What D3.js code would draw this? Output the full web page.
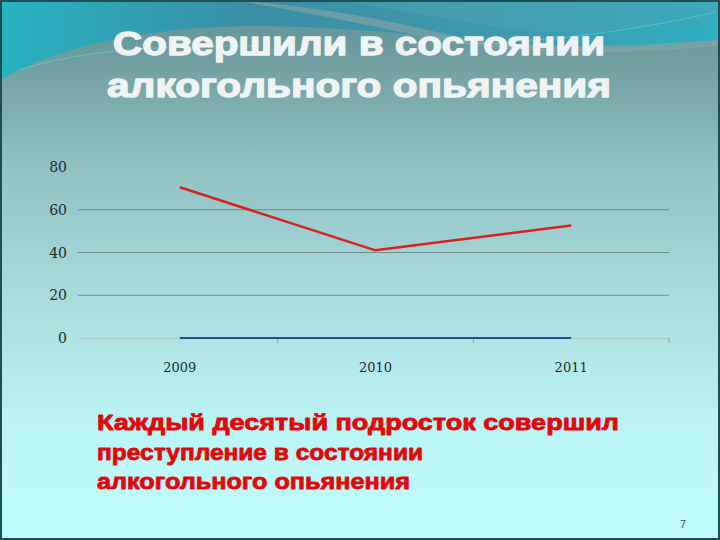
<!DOCTYPE html>
<html><head><meta charset="utf-8">
<script src="https://cdn.jsdelivr.net/npm/d3@7"></script>
<style>html,body{margin:0;padding:0;background:#fff;}svg{display:block;}</style>
</head><body>
<script>
const titleLines = ["Совершили в состоянии", "алкогольного опьянения"];
const noteLines = ["Каждый десятый подросток совершил", "преступление в состоянии", "алкогольного опьянения"];
const years = ["2009", "2010", "2011"];
const seriesRed = [70.5, 41, 52.6];
const seriesBlue = [0, 0, 0];
const yTicks = [0, 20, 40, 60, 80];
const pageNumber = "7";

const W = 720, H = 540;
const svg = d3.select("body").append("svg").attr("width", W).attr("height", H);
const defs = svg.append("defs");
const bg = defs.append("linearGradient").attr("id","bg").attr("x1",0).attr("y1",0).attr("x2",0).attr("y2",1);
[[0,"#5c9196"],[0.12,"#729fa2"],[0.3,"#8fc0c2"],[0.55,"#a9dcdd"],[0.8,"#bcf5f6"],[1,"#c0fbfb"]].forEach(s=>bg.append("stop").attr("offset",s[0]).attr("stop-color",s[1]));
const sw = defs.append("linearGradient").attr("id","sw").attr("x1",0).attr("y1",0).attr("x2",1).attr("y2",0);
[[0,"#27b3bf"],[0.35,"#3a8ea5"],[0.7,"#3f9aad"],[1,"#2fb0c0"]].forEach(s=>sw.append("stop").attr("offset",s[0]).attr("stop-color",s[1]));

svg.append("rect").attr("width",W).attr("height",H).attr("fill","url(#bg)");
// top swoosh
svg.append("path").attr("d","M0,0 H720 V40 C640,52 560,48 470,40 C400,33 330,26 250,26 C150,27 60,45 0,80 Z").attr("fill","url(#sw)");
svg.append("path").attr("d","M230,0 C300,4 380,18 450,35 C520,50 600,48 720,40 V46 C600,56 520,55 440,40 C370,26 300,10 230,0 Z").attr("fill","#8aa5a7").attr("opacity",0.6);
svg.append("path").attr("d","M330,0 C400,8 450,22 520,30 C580,36 650,28 720,18 V0 Z").attr("fill","#4aa3b3").attr("opacity",0.5);
svg.append("path").attr("d","M20,70 C80,50 160,45 260,46").attr("fill","none").attr("stroke","#5fd0d8").attr("stroke-width",1).attr("opacity",0.7);
svg.append("path").attr("d","M470,44 C560,40 640,30 715,12").attr("fill","none").attr("stroke","#5fd0d8").attr("stroke-width",1).attr("opacity",0.6);

// title
const titleW = [492, 504];
titleLines.forEach((t,i)=>{
  svg.append("text").attr("x",359).attr("y",[55,97][i]).attr("text-anchor","middle")
    .attr("font-family","Liberation Sans, Arial, sans-serif").attr("font-weight","bold").attr("font-size",34)
    .attr("fill","#eff3f3").attr("stroke","#eff3f3").attr("stroke-width",1.3).attr("stroke-linejoin","round")
    .attr("textLength",titleW[i]).attr("lengthAdjust","spacingAndGlyphs").text(t);
});

// chart
const x = d3.scaleBand().domain(years).range([82,669]).padding(0);
const y = d3.scaleLinear().domain([0,80]).range([338,167]);
const g = svg.append("g");
yTicks.forEach(v=>{
  if (v===0) return;
  g.append("line").attr("x1",78).attr("x2",669).attr("y1",y(v)).attr("y2",y(v))
    .attr("stroke", v===80 ? "#9fc4c4" : "#6e8c8c").attr("stroke-width",1).attr("opacity", v===80?0.5:1);
});
g.append("line").attr("x1",78).attr("x2",669).attr("y1",y(0)+0.5).attr("y2",y(0)+0.5).attr("stroke","#a9c9cb").attr("stroke-width",1);
const bounds = years.map(d=>x(d)).concat([x.range()[1]]).slice(1);
bounds.forEach(b=>{
  g.append("line").attr("x1",b).attr("x2",b).attr("y1",y(0)).attr("y2",y(0)+5).attr("stroke","#8aaaac").attr("stroke-width",1);
});
yTicks.forEach(v=>{
  g.append("text").attr("x",67).attr("y",y(v)+5).attr("text-anchor","end")
    .attr("font-family","DejaVu Serif, Liberation Serif, serif").attr("font-size",14).attr("fill","#1e2a2a").text(v);
});
years.forEach(yr=>{
  g.append("text").attr("x",x(yr)+x.bandwidth()/2).attr("y",372).attr("text-anchor","middle")
    .attr("font-family","DejaVu Serif, Liberation Serif, serif").attr("font-size",13).attr("fill","#1e2a2a").text(yr);
});
const line = d3.line().x((d,i)=>x(years[i])+x.bandwidth()/2).y(d=>y(d));
g.append("path").attr("d",line(seriesBlue)).attr("fill","none").attr("stroke","#244f8f").attr("stroke-width",1.8);
g.append("path").attr("d",line(seriesRed)).attr("fill","none").attr("stroke","#d8201c").attr("stroke-width",2.5).attr("stroke-linejoin","round");

// note
const noteW = [522, 326, 313];
noteLines.forEach((t,i)=>{
  svg.append("text").attr("x",97).attr("y",[430,460,489][i])
    .attr("font-family","Liberation Sans, Arial, sans-serif").attr("font-weight","bold").attr("font-size",22)
    .attr("fill","#e5060c").attr("stroke","#e5060c").attr("stroke-width",0.8).attr("stroke-linejoin","round")
    .attr("textLength",noteW[i]).attr("lengthAdjust","spacingAndGlyphs").text(t);
});

svg.append("text").attr("x",683).attr("y",528).attr("text-anchor","middle")
  .attr("font-family","Liberation Sans, Arial, sans-serif").attr("font-size",11).attr("fill","#2a5e68").text(pageNumber);

// frame
svg.append("rect").attr("x",1).attr("y",1).attr("width",W-2).attr("height",H-2).attr("fill","none").attr("stroke","#1d4e58").attr("stroke-width",2);
</script>
</body></html>
